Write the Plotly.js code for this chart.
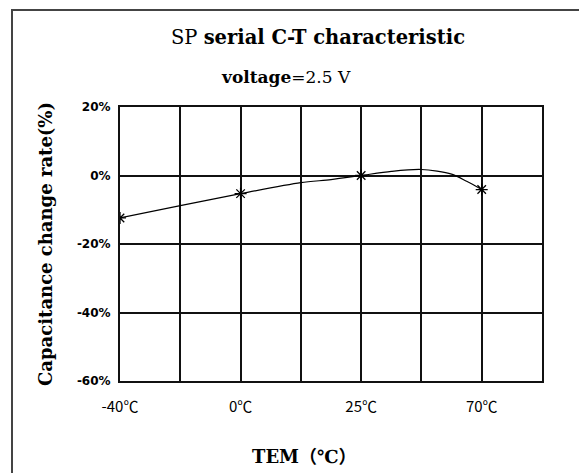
<!DOCTYPE html>
<html>
<head>
<meta charset="utf-8">
<script src="https://cdn.plot.ly/plotly-3.0.1.min.js"></script>
<style>
  html, body { margin: 0; padding: 0; background: #fff; }
  #wrap { position: relative; width: 579px; height: 473px; overflow: hidden; }
  #frame { position: absolute; left: 11px; top: 9px; width: 600px; height: 500px;
           border-left: 2px solid #444; border-top: 2px solid #444; pointer-events: none; z-index: 5; }
  #chart { position: absolute; left: 0; top: 0; width: 579px; height: 473px; }
</style>
</head>
<body>
<div id="wrap">
  <div id="chart"></div>
  <div id="frame"></div>
</div>
<script>
// Measured points (temperature category position on the grid, capacitance change rate %)
const tempLabels = ['-40℃', '0℃', '25℃', '70℃'];
const tempPos = [0, 2, 4, 6];
const changeRate = [-12.4, -5.3, 0, -4.1];

// Curve traced through the picture (grid position, %)
const curvePos = [0, 1, 2, 3, 3.5, 4, 4.5, 5, 5.5, 5.75, 6];
const curveRate = [-12.4, -8.8, -5.3, -2.1, -1.2, 0, 1.2, 1.75, 0.4, -1.7, -4.1];

// Grid columns and y ticks
const gridCols = [0, 1, 2, 3, 4, 5, 6, 7];
const gridText = ['-40℃', '', '0℃', '', '25℃', '', '70℃', ''];
const yTicks = [-60, -40, -20, 0, 20];
const yTickText = ['-60%', '-40%', '-20%', '0%', '20%'];

const serif = '"DejaVu Serif", "Liberation Serif", "Noto Sans CJK SC", serif';

const traces = [
  {
    x: curvePos, y: curveRate, type: 'scatter', mode: 'lines',
    line: { color: '#000', width: 1.2, shape: 'spline', smoothing: 0.8 },
    hoverinfo: 'skip', showlegend: false
  },
  {
    x: tempPos, y: changeRate, type: 'scatter', mode: 'markers',
    text: tempLabels,
    marker: { symbol: 'asterisk-open', size: 10, color: '#000', line: { color: '#000', width: 1.3 } },
    showlegend: false
  }
];

const layout = {
  width: 579, height: 473,
  margin: { l: 120, r: 37, t: 107, b: 92, pad: 0 },
  paper_bgcolor: '#fff', plot_bgcolor: '#fff',
  showlegend: false,
  title: {
    text: 'SP <b>serial C-T characteristic</b>',
    font: { family: serif, size: 19.5, color: '#000' },
    x: 318 / 579, xanchor: 'center', xref: 'container',
    y: 1 - 37 / 473, yanchor: 'middle', yref: 'container'
  },
  xaxis: {
    range: [0, 7], tickmode: 'array', tickvals: gridCols, ticktext: gridText,
    showgrid: true, gridcolor: '#111', gridwidth: 2,
    showline: true, linecolor: '#111', linewidth: 2, mirror: true,
    zeroline: false, ticks: '', ticklabelstandoff: 11,
    tickfont: { family: '"Noto Sans CJK SC", "DejaVu Sans", sans-serif', size: 15, color: '#000' },
    fixedrange: true
  },
  yaxis: {
    range: [-60, 20], tickmode: 'array', tickvals: yTicks, ticktext: yTickText,
    showgrid: true, gridcolor: '#111', gridwidth: 2,
    showline: true, linecolor: '#111', linewidth: 2, mirror: true,
    zeroline: false, ticks: '', ticklabelstandoff: 5,
    tickfont: { family: '"DejaVu Sans", sans-serif', size: 12, color: '#000', weight: 'bold' },
    title: {
      text: '<b>Capacitance change rate(%)</b>',
      font: { family: serif, size: 18, color: '#000' },
      standoff: 20
    },
    fixedrange: true
  },
  annotations: [
    {
      text: '<b>voltage</b>=2.5 V', xref: 'paper', yref: 'paper',
      x: (286 - 120) / 422, y: 1 + (107 - 77) / 274, xanchor: 'center', yanchor: 'middle',
      showarrow: false, font: { family: serif, size: 17, color: '#000' }
    },
    {
      text: '<b>TEM（℃）</b>', xref: 'paper', yref: 'paper',
      x: (304 - 120) / 422, y: -(456 - 381) / 274, xanchor: 'center', yanchor: 'middle',
      showarrow: false, font: { family: serif, size: 18, color: '#000' }
    }
  ]
};

Plotly.newPlot('chart', traces, layout, { displayModeBar: false, staticPlot: true });
</script>
</body>
</html>
